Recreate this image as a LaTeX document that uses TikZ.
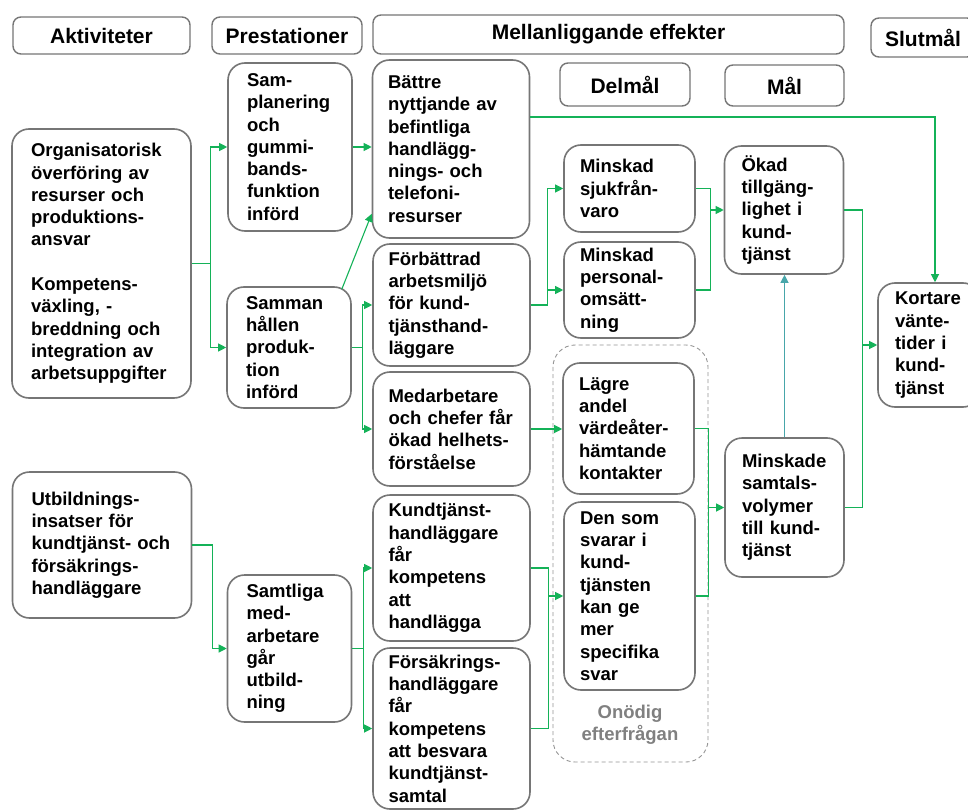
\documentclass[tikz,border=0pt]{standalone}
\usepackage{fontspec}
\setmainfont{Liberation Sans}
\usetikzlibrary{arrows.meta,calc}
\definecolor{boxgray}{RGB}{118,118,118}
\definecolor{conngreen}{RGB}{20,178,88}
\definecolor{connteal}{RGB}{72,166,170}
\definecolor{dashgray}{RGB}{150,150,150}
\definecolor{lblgray}{RGB}{128,128,128}
\newcommand{\diagbodyfont}{\fontsize{18.5}{22.3}\selectfont\bfseries\hyphenpenalty=10000\exhyphenpenalty=10000}
\begin{document}
\begin{tikzpicture}[x=1pt,y=-1pt,
  hdr/.style={draw=boxgray, line width=1.4pt, rounded corners=8pt, fill=white,
    font=\fontsize{21}{25}\selectfont\bfseries, inner sep=0pt},
  box/.style={draw=boxgray, line width=1.6pt, rounded corners=17pt, fill=white,
    font=\diagbodyfont, align=left, inner ysep=2pt},
  abox/.style={box, inner xsep=19pt, text width=141pt},
  pbox/.style={box, inner xsep=19pt, text width=86pt},
  mbox/.style={box, inner xsep=15.5pt, text width=126pt},
  dbox/.style={box, inner xsep=16pt, text width=99pt},
  gbox/.style={box, inner xsep=17pt, text width=85pt},
  sbox/.style={box, inner xsep=17pt, text width=68pt},
  conn/.style={draw=conngreen, line width=1.1pt, -{Triangle[length=8pt,width=8pt]}},
  plain/.style={draw=conngreen, line width=1.1pt},
  tealconn/.style={draw=connteal, line width=1.1pt, -{Triangle[length=8pt,width=8pt]}}
]
\useasboundingbox[fill=white] (0,0) rectangle (968,810);

% headers
\node[hdr, minimum width=177pt, minimum height=37pt] (hA) at (101.5,35.5) {Aktiviteter};
\node[hdr, minimum width=150pt, minimum height=37pt] (hP) at (287,35.5) {Prestationer};
\node[hdr, minimum width=471pt, minimum height=39pt] (hM) at (608.5,34.5) {Mellanliggande effekter};
\node[hdr, minimum width=104pt, minimum height=39pt] (hS) at (923,37.5) {Slutmål};
\node[hdr, minimum width=130pt, minimum height=43pt] (hD) at (625,84.5) {Delmål};
\node[hdr, minimum width=119pt, minimum height=41pt] (hG) at (784.5,85.5) {Mål};

% dashed group
\draw[dashgray, line width=0.9pt, dash pattern=on 4pt off 3pt, rounded corners=22pt] (553,345) rectangle (708,762);
\node[font=\fontsize{18.5}{22.3}\selectfont\bfseries, text=lblgray, align=center] (lbl) at (630,725) {Onödig\\efterfrågan};

% activities
\node[abox, minimum height=269pt] (A1) at (101.5,263.5) {Organisatorisk\\överföring av\\resurser och\\produktions-\\ansvar\\[22.3pt]Kompetens-\\växling, -\\breddning och\\integration av\\arbetsuppgifter};
\node[abox, minimum height=146pt] (A2) at (102,545) {Utbildnings-\\insatser för\\kundtjänst- och\\försäkrings-\\handläggare};

% outputs
\node[pbox, minimum height=168pt] (P1) at (290,147) {Sam-\\planering\\och\\gummi-\\bands-\\funktion\\införd};
\node[pbox, minimum height=121pt] (P2) at (289,347.5) {Samman\\hållen\\produk-\\tion\\införd};
\node[pbox, minimum height=147pt] (P3) at (289.5,648.5) {Samtliga\\med-\\arbetare\\går\\utbild-\\ning};

% intermediate
\node[mbox, minimum height=178pt] (M1) at (451,149) {Bättre\\nyttjande av\\befintliga\\handlägg-\\nings- och\\telefoni-\\resurser};
\node[mbox, minimum height=122pt] (M2) at (451.5,305) {Förbättrad\\arbetsmiljö\\för kund-\\tjänsthand-\\läggare};
\node[mbox, minimum height=114pt] (M3) at (451.5,429) {Medarbetare\\och chefer får\\ökad helhets-\\förståelse};
\node[mbox, minimum height=146pt] (M4) at (451.5,568) {Kundtjänst-\\handläggare\\får\\kompetens\\att\\handlägga};
\node[mbox, minimum height=161pt] (M5) at (451.5,728.5) {Försäkrings-\\handläggare\\får\\kompetens\\att besvara\\kundtjänst-\\samtal};

% sub-goals
\node[dbox, minimum height=87pt] (D1) at (629.5,188.5) {Minskad\\sjukfrån-\\varo};
\node[dbox, minimum height=96pt] (D2) at (629.5,290) {Minskad\\personal-\\omsätt-\\ning};
\node[dbox, minimum height=131pt] (D3) at (628.5,428.5) {Lägre\\andel\\värdeåter-\\hämtande\\kontakter};
\node[dbox, minimum height=188pt] (D4) at (629.5,596) {Den som\\svarar i\\kund-\\tjänsten\\kan ge\\mer\\specifika\\svar};

% goals
\node[gbox, minimum height=128pt] (G1) at (784,210) {Ökad\\tillgäng-\\lighet i\\kund-\\tjänst};
\node[gbox, minimum height=139pt] (G2) at (784.5,507.5) {Minskade\\samtals-\\volymer\\till kund-\\tjänst};

% final goal
\node[sbox, minimum height=124pt] (S1) at (929,345) {Kortare\\vänte-\\tider i\\kund-\\tjänst};

% connectors
\draw[conn] (A1.east) -- ++(19,0) coordinate (jA) |- (P1.west);
\draw[conn] (jA) |- (P2.west);
\draw[conn] (P1.east) -- (P1.east -| M1.west);
\draw[conn] ([xshift=-10pt,yshift=-3pt]P2.north east) -- ([yshift=25pt]M1.south west);
\draw[conn] (P2.east) -- ++(11,0) coordinate (jP2) |- (M2.west);
\draw[conn] (jP2) |- (M3.west);
\draw[conn] ([yshift=32pt]M1.east) -| ([xshift=6pt]S1.north);
\draw[conn] (M2.east) -- ++(17,0) coordinate (jM2) |- (D1.west);
\draw[conn] (jM2) |- (D2.west);
\draw[plain] (D1.east) -- ++(15,0) coordinate (jD1) |- (D2.east);
\draw[conn] (jD1 |- G1.west) -- (G1.west);
\draw[plain] (G1.east) -- ++(18,0) coordinate (jG) |- (G2.east);
\draw[conn] (jG |- S1.west) -- (S1.west);
\draw[tealconn] (G2.north) -- (G2.north |- G1.south);
\draw[conn] (M3.east) -- (M3.east -| D3.west);
\draw[plain] (D3.east) -- ++(14,0) coordinate (jD3) |- (D4.east);
\draw[conn] (jD3 |- G2.west) -- (G2.west);
\draw[plain] (M4.east) -- ++(18,0) coordinate (jM4) |- (M5.east);
\draw[conn] (jM4 |- D4.west) -- (D4.west);
\draw[conn] (A2.east) -- ++(20,0) |- (P3.west);
\draw[conn] (P3.east) -- ++(11,0) coordinate (jP3) |- (M4.west);
\draw[conn] (jP3) |- (M5.west);
\end{tikzpicture}
\end{document}
